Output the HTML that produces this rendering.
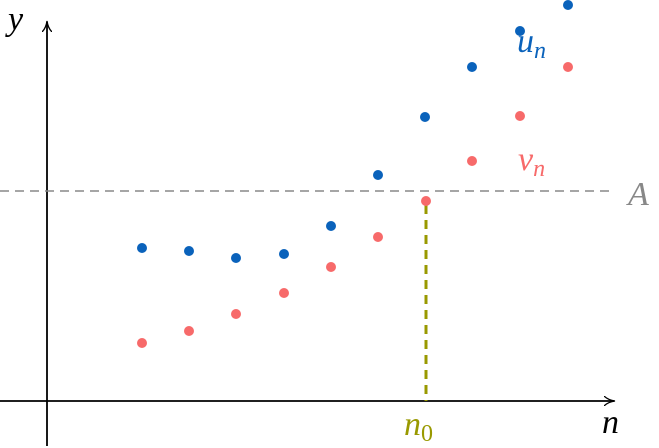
<!DOCTYPE html>
<html><head><style>body{margin:0;background:#fff}svg{display:block}</style></head><body>
<svg width="659" height="448" viewBox="0 0 659 448" xmlns="http://www.w3.org/2000/svg">
<defs><marker id="ar" markerWidth="12" markerHeight="10" refX="10" refY="5" orient="auto" markerUnits="userSpaceOnUse"><path d="M0,0 Q4,4 11,5 Q4,6 0,10" fill="none" stroke="#000" stroke-width="1.3"/></marker></defs>
<line x1="0" y1="401" x2="614" y2="401" stroke="#000" stroke-width="1.8" marker-end="url(#ar)"/>
<line x1="47" y1="446" x2="47" y2="22" stroke="#000" stroke-width="1.8" marker-end="url(#ar)"/>
<line x1="0" y1="191" x2="614" y2="191" stroke="#888" stroke-width="1.4" stroke-dasharray="9,6"/>
<line x1="426" y1="205" x2="426" y2="401" stroke="#999900" stroke-width="3" stroke-dasharray="9,6"/>
<g fill="#0a62bb">
<circle cx="142" cy="248" r="5"/><circle cx="189" cy="251" r="5"/><circle cx="236" cy="258" r="5"/><circle cx="284" cy="254" r="5"/><circle cx="331" cy="226" r="5"/><circle cx="378" cy="175" r="5"/><circle cx="425" cy="117" r="5"/><circle cx="472" cy="67" r="5"/><circle cx="520" cy="31" r="5"/><circle cx="568" cy="5" r="5"/>
</g>
<g fill="#f76a6a">
<circle cx="142" cy="343" r="5"/><circle cx="189" cy="331" r="5"/><circle cx="236" cy="314" r="5"/><circle cx="284" cy="293" r="5"/><circle cx="331" cy="267" r="5"/><circle cx="378" cy="237" r="5"/><circle cx="426" cy="201" r="5"/><circle cx="472" cy="161" r="5"/><circle cx="520" cy="116" r="5"/><circle cx="568" cy="67" r="5"/>
</g>
<g font-family="Liberation Serif, serif" font-style="italic" font-size="34">
<text x="8" y="30">y</text>
<text x="602" y="433">n</text>
<text x="404" y="435" fill="#999900">n<tspan font-size="24" font-style="normal" dy="6">0</tspan></text>
<text x="628" y="205" fill="#888">A</text>
<text x="517" y="52" fill="#0a62bb">u<tspan font-size="24" dy="6">n</tspan></text>
<text x="518" y="170" fill="#f76a6a">v<tspan font-size="24" dy="6">n</tspan></text>
</g>
</svg>
</body></html>
